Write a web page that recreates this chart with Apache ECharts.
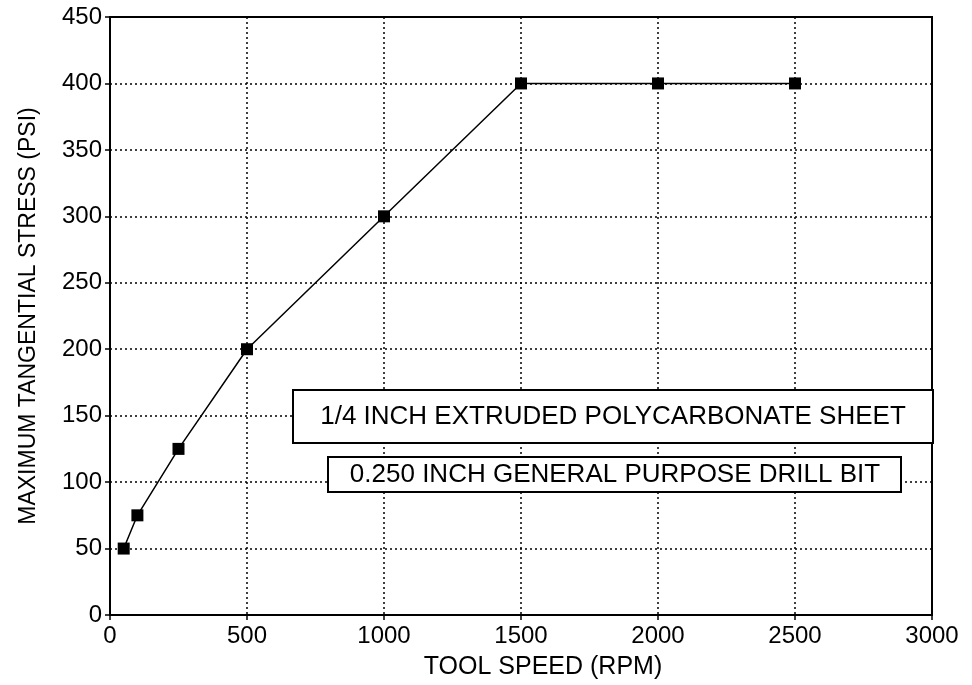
<!DOCTYPE html>
<html>
<head>
<meta charset="utf-8">
<script src="https://cdn.jsdelivr.net/npm/echarts@6/dist/echarts.min.js"></script>
<style>
  html, body { margin: 0; padding: 0; background: #fff; }
  #chart { width: 972px; height: 685px; }
</style>
</head>
<body>
<div id="chart"></div>
<script>
// tool speed (rpm) and max tangential stress (psi)
const toolSpeed = [50, 100, 250, 500, 1000, 1500, 2000, 2500];
const stress = [50, 75, 125, 200, 300, 400, 400, 400];
const noteLines = [
  '1/4 INCH EXTRUDED POLYCARBONATE SHEET',
  '0.250 INCH GENERAL PURPOSE DRILL BIT'
];

const font = '"Liberation Sans", Arial, sans-serif';
let myChart = echarts.init(document.getElementById('chart'));

let option = {
  backgroundColor: '#fff',
  animation: false,
  grid: {
    left: 110, right: 40, top: 17, bottom: 70,
    show: true,
    borderColor: '#000',
    borderWidth: 2
  },
  xAxis: {
    type: 'value',
    min: 0, max: 3000, interval: 500,
    name: 'TOOL SPEED (RPM)',
    nameLocation: 'middle',
    nameGap: 40,
    nameTextStyle: { color: '#000', fontSize: 25, fontFamily: font, padding: [0, 0, 0, 44] },
    axisLine: { lineStyle: { color: '#000', width: 2 } },
    axisTick: { show: true, length: 5, lineStyle: { color: '#000', width: 1.5 } },
    axisLabel: { color: '#000', fontSize: 24, fontFamily: font, margin: 9, formatter: v => String(v) },
    splitLine: { show: true, lineStyle: { color: '#000', type: [2, 3], width: 1.5 } }
  },
  yAxis: {
    type: 'value',
    min: 0, max: 450, interval: 50,
    name: 'MAXIMUM TANGENTIAL STRESS (PSI)',
    nameLocation: 'middle',
    nameGap: 70,
    nameRotate: 90,
    nameTextStyle: { color: '#000', fontSize: 23, fontFamily: font },
    axisLine: { show: true, lineStyle: { color: '#000', width: 2 } },
    axisTick: { show: true, length: 5, lineStyle: { color: '#000', width: 1.5 } },
    axisLabel: { color: '#000', fontSize: 24, fontFamily: font, margin: 8 },
    splitLine: { show: true, lineStyle: { color: '#000', type: [2, 3], width: 1.5 } }
  },
  series: [{
    type: 'line',
    data: toolSpeed.map((x, i) => [x, stress[i]]),
    symbol: 'rect',
    symbolSize: 12,
    lineStyle: { color: '#000', width: 1.5 },
    itemStyle: { color: '#000' }
  }],
  graphic: [
    {
      type: 'group', left: 292, top: 389, z: 100,
      children: [
        { type: 'rect', z: 100, shape: { x: 0, y: 0, width: 640, height: 53 },
          style: { fill: '#fff', stroke: '#000', lineWidth: 2 } },
        { type: 'text', z: 101, x: 320, y: 27,
          style: { text: noteLines[0], fill: '#000', font: '26px ' + font, align: 'center', verticalAlign: 'middle' } }
      ]
    },
    {
      type: 'group', left: 327, top: 456, z: 100,
      children: [
        { type: 'rect', z: 100, shape: { x: 0, y: 0, width: 573, height: 35 },
          style: { fill: '#fff', stroke: '#000', lineWidth: 2 } },
        { type: 'text', z: 101, x: 287, y: 18,
          style: { text: noteLines[1], fill: '#000', font: '26px ' + font, align: 'center', verticalAlign: 'middle' } }
      ]
    }
  ]
};
myChart.setOption(option);

window.addEventListener('resize', function () {
  myChart.resize();
});
</script>
</body>
</html>
